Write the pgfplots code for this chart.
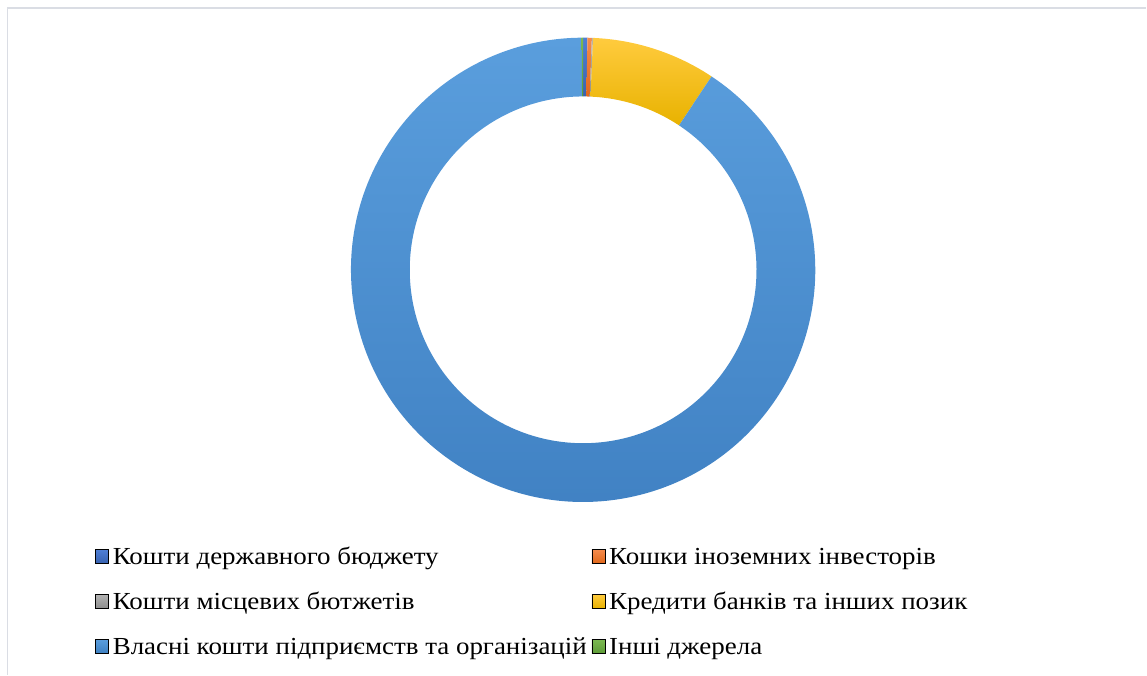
\documentclass[border=0pt]{standalone}
\usepackage{fontspec}
\setmainfont{Liberation Serif}
\newfontfamily\legfont{Liberation Serif}[FakeStretch=1.1]
\usepackage{pgfplots}
\usepackage{pgfplotstable}
\pgfplotsset{compat=1.18}

% slice colours, top and bottom of the gradient
\definecolor{c1t}{HTML}{4F7FD6}\definecolor{c1b}{HTML}{3862B0}
\definecolor{c2t}{HTML}{F58B4C}\definecolor{c2b}{HTML}{E0681B}
\definecolor{c3t}{HTML}{B4B4B4}\definecolor{c3b}{HTML}{8E8E8E}
\definecolor{c4t}{HTML}{FFCB3E}\definecolor{c4b}{HTML}{E8B200}
\definecolor{c5t}{HTML}{5A9EDD}\definecolor{c5b}{HTML}{3F80C2}
\definecolor{c6t}{HTML}{7CBA52}\definecolor{c6b}{HTML}{5E9C38}
\definecolor{frame}{HTML}{DADDE4}

% share of each source, %
\pgfplotstableread{
share top bottom
0.30  c1t c1b
0.30  c2t c2b
0.08  c3t c3b
8.65  c4t c4b
90.57 c5t c5b
0.10  c6t c6b
}\sources

\def\cx{583.5}\def\cy{405}
\def\Ro{232.3}\def\Ri{173.5}

\pgfplotsset{sq/.style 2 args={legend image code/.code={
  \shade[top color=#1,bottom color=#2] (0pt,-4pt) rectangle (13pt,10pt);}}}

\begin{document}
\begin{tikzpicture}
\begin{axis}[
    x=1pt, y=1pt,
    xmin=0, xmax=1147, ymin=0, ymax=675,
    hide axis,
    clip=false,
    legend columns=2,
    legend cell align=left,
    legend style={
        at={(axis cs:95.3,127)}, anchor=north west,
        draw=none, fill=none, inner sep=0pt,
        font=\legfont\fontsize{24.5}{28}\selectfont,
        row sep=22pt,
        nodes={inner sep=0pt, text height=17pt, text depth=6pt},
        /tikz/every odd column/.append style={column sep=4pt},
        /tikz/every even column/.append style={column sep=5pt}},
]
\path (axis cs:0,0) rectangle (axis cs:1147,675);
\draw[frame, line width=1.5pt] (axis cs:7.5,0) -- (axis cs:7.5,667) -- (axis cs:1147,667);

\pgfplotsextra{
  \pgfplotstablegetrowsof{\sources}
  \pgfmathtruncatemacro\last{\pgfplotsretval-1}
  \def\acc{0}
  \pgfplotsforeachungrouped \i in {0,...,\last}{
    \pgfplotstablegetelem{\i}{share}\of\sources \let\v=\pgfplotsretval
    \pgfplotstablegetelem{\i}{top}\of\sources \let\ct=\pgfplotsretval
    \pgfplotstablegetelem{\i}{bottom}\of\sources \let\cb=\pgfplotsretval
    \pgfmathsetmacro\aa{90-3.6*\acc}
    \pgfmathsetmacro\acc{\acc+\v}
    \pgfmathsetmacro\ab{90-3.6*\acc}
    \pgfmathsetmacro\ox{\cx+\Ro*cos(\aa)}
    \pgfmathsetmacro\oy{\cy+\Ro*sin(\aa)}
    \pgfmathsetmacro\ix{\cx+\Ri*cos(\ab)}
    \pgfmathsetmacro\iy{\cy+\Ri*sin(\ab)}
    \shade[top color=\ct, bottom color=\cb]
      (axis cs:\ox,\oy) arc[start angle=\aa, end angle=\ab, radius=\Ro pt]
      -- (axis cs:\ix,\iy) arc[start angle=\ab, end angle=\aa, radius=\Ri pt] -- cycle;
  }
}

\addlegendimage{sq={c1t}{c1b}}
\addlegendentry{Кошти державного бюджету}
\addlegendimage{sq={c2t}{c2b}}
\addlegendentry{Кошки іноземних інвесторів}
\addlegendimage{sq={c3t}{c3b}}
\addlegendentry{Кошти місцевих бютжетів}
\addlegendimage{sq={c4t}{c4b}}
\addlegendentry{Кредити банків та інших позик}
\addlegendimage{sq={c5t}{c5b}}
\addlegendentry{Власні кошти підприємств та організацій}
\addlegendimage{sq={c6t}{c6b}}
\addlegendentry{Інші джерела}
\end{axis}
\end{tikzpicture}
\end{document}
